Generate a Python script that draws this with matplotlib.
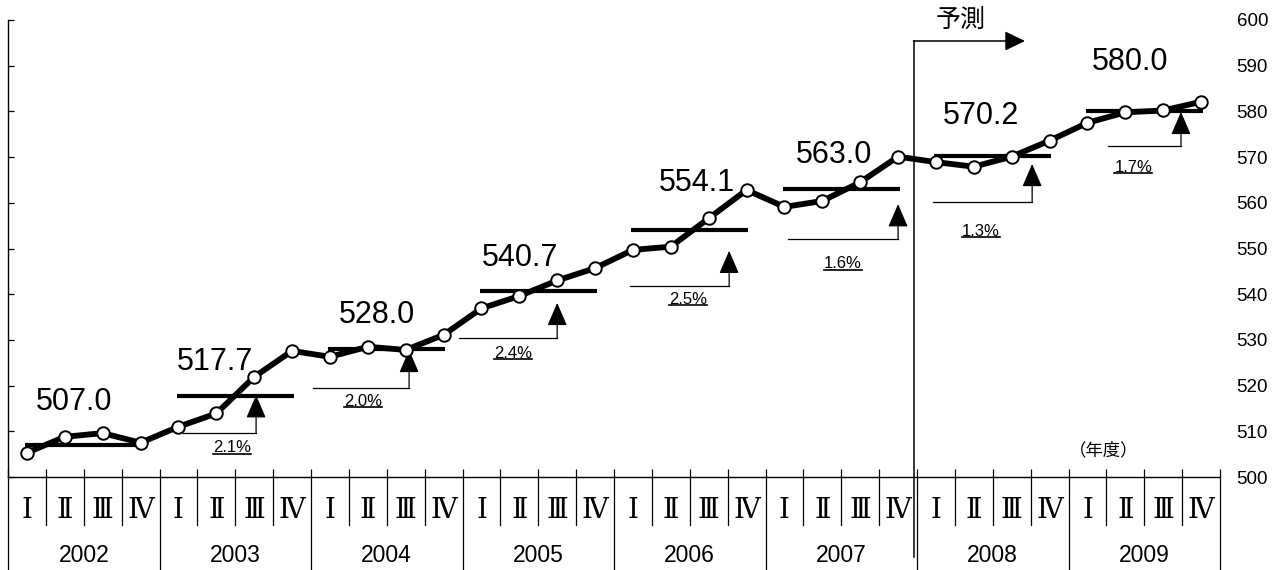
import matplotlib
matplotlib.use('Agg')
import matplotlib.pyplot as plt
from matplotlib.lines import Line2D

# 四半期データ（2002〜2009年度）
years = ['2002', '2003', '2004', '2005', '2006', '2007', '2008', '2009']
quarters = ['Ⅰ', 'Ⅱ', 'Ⅲ', 'Ⅳ']
quarterly = [505.3, 508.8, 509.6, 507.5,
             511.0, 513.9, 521.9, 527.6,
             526.3, 528.5, 527.8, 531.1,
             536.9, 539.6, 543.0, 545.7,
             549.7, 550.4, 556.6, 562.8,
             559.1, 560.4, 564.5, 570.1,
             568.9, 567.9, 570.1, 573.6,
             577.5, 579.8, 580.2, 582.1]
annual = [507.0, 517.7, 528.0, 540.7, 554.1, 563.0, 570.2, 580.0]
growth = ['2.1%', '2.0%', '2.4%', '2.5%', '1.6%', '1.3%', '1.7%']

# 配置（ラベル位置・矢印位置）
label_pos = [(1.24, 516.4), (4.96, 525.1), (9.24, 535.4), (13.01, 548.0),
             (17.69, 564.3), (21.31, 570.5), (25.19, 579.0), (29.12, 590.9)]
pct_pos = [(5.41, 506.35), (8.88, 516.6), (12.84, 527.1), (17.46, 538.9),
           (21.54, 546.7), (25.18, 553.8), (29.21, 567.8)]
# (始点x, 矢印x, 横線y, 矢印先端y)
arrows = [(4.12, 6.05, 509.6, 517.9), (7.55, 10.09, 519.5, 527.8),
          (11.41, 14.0, 530.4, 538.1), (15.92, 18.54, 541.8, 549.5),
          (20.09, 23.0, 552.1, 559.7), (23.92, 26.54, 560.1, 568.5),
          (28.54, 30.47, 572.5, 579.9)]

jp = ['Noto Sans CJK JP', 'DejaVu Sans']
plt.rcParams['font.family'] = ['Liberation Sans', 'Noto Sans CJK JP', 'DejaVu Sans']

W, H = 1279, 570
fig = plt.figure(figsize=(W / 100, H / 100), dpi=100)
ax = fig.add_axes([8 / W, 93 / H, 1212 / W, 457 / H])
ax.set_xlim(-0.5, 31.5)
ax.set_ylim(500, 600)

def fy(px):
    # 図のピクセルy -> 軸の比率
    return (477 - px) / 457

x = list(range(len(quarterly)))
ax.plot(x, quarterly, color='k', lw=4.2, marker='o', ms=9, mfc='white',
        mec='k', mew=1.4, zorder=4, clip_on=False)

for i, v in enumerate(annual):
    ax.plot([4 * i - 0.05, 4 * i + 3.05], [v, v], color='k', lw=3, zorder=3,
            solid_capstyle='butt')
    ax.text(label_pos[i][0], label_pos[i][1], f'{v:.1f}', fontsize=22,
            ha='center', va='center')

pct_texts = []
for (x0, xa, yh, yt), g, (px, py) in zip(arrows, growth, pct_pos):
    ax.plot([x0, xa], [yh, yh], color='k', lw=0.9, zorder=3)
    ax.annotate('', xy=(xa, yt), xytext=(xa, yh),
                arrowprops=dict(arrowstyle='-|>,head_length=0.72,head_width=0.31',
                                color='k', lw=0.9, mutation_scale=20,
                                shrinkA=0, shrinkB=0), zorder=3)
    t = ax.text(px, py, g, fontsize=12, ha='center', va='center')
    pct_texts.append(t)

# 予測の区切り
xf = (913.5 - 8) / 37.875 - 0.5
xe = (1025 - 8) / 37.875 - 0.5
tr = ax.get_xaxis_transform()
ax.plot([xf, xf], [fy(557), fy(41)], color='k', lw=1.1, transform=tr, clip_on=False)
ax.annotate('', xy=(xe, fy(41)), xytext=(xf, fy(41)), xycoords=tr, textcoords=tr,
            arrowprops=dict(arrowstyle='-|>,head_length=0.62,head_width=0.3',
                            color='k', lw=1.1, mutation_scale=20,
                            shrinkA=0, shrinkB=0), annotation_clip=False)
ax.text((961 - 8) / 37.875 - 0.5, fy(21), '予測', fontsize=18, family=jp,
        ha='center', va='center', transform=tr)
ax.text(28.44, 505.9, '（年度）', fontsize=12.5, family=jp, ha='center', va='center')

# 軸
for s in ['top', 'right']:
    ax.spines[s].set_visible(False)
ax.spines['left'].set_linewidth(1.0)
ax.spines['bottom'].set_linewidth(1.0)
ax.set_yticks(range(500, 601, 10))
ax.tick_params(axis='y', direction='in', length=4, width=0.9, left=True, right=False,
               labelleft=False, labelright=True, pad=12, labelsize=13.5)
ax.set_xticks([i - 0.5 for i in range(33)])
ax.tick_params(axis='x', direction='in', length=6, width=0.9, labelbottom=False)

# 下の表
for i in range(33):
    bottom = fy(570) if i % 4 == 0 else fy(525)
    ax.plot([i - 0.5, i - 0.5], [0, bottom], color='k', lw=0.9, transform=tr,
            clip_on=False)
for i in range(32):
    ax.text(i, fy(510), quarters[i % 4], fontsize=20,
            family=['DejaVu Serif', 'Noto Sans CJK JP', 'DejaVu Sans'],
            ha='center', va='center', transform=tr)
for k, yname in enumerate(years):
    ax.text(4 * k + 1.5, fy(555), yname, fontsize=16.5, ha='center', va='center',
            transform=tr)

# 下線
fig.canvas.draw()
r = fig.canvas.get_renderer()
for t in pct_texts:
    bb = t.get_window_extent(r)
    yl = bb.y0 + 1.5
    fig.add_artist(Line2D([bb.x0 / W, bb.x1 / W], [yl / H, yl / H],
                          transform=fig.transFigure, color='k', lw=1.2))

fig.savefig('out.png', dpi=100)
